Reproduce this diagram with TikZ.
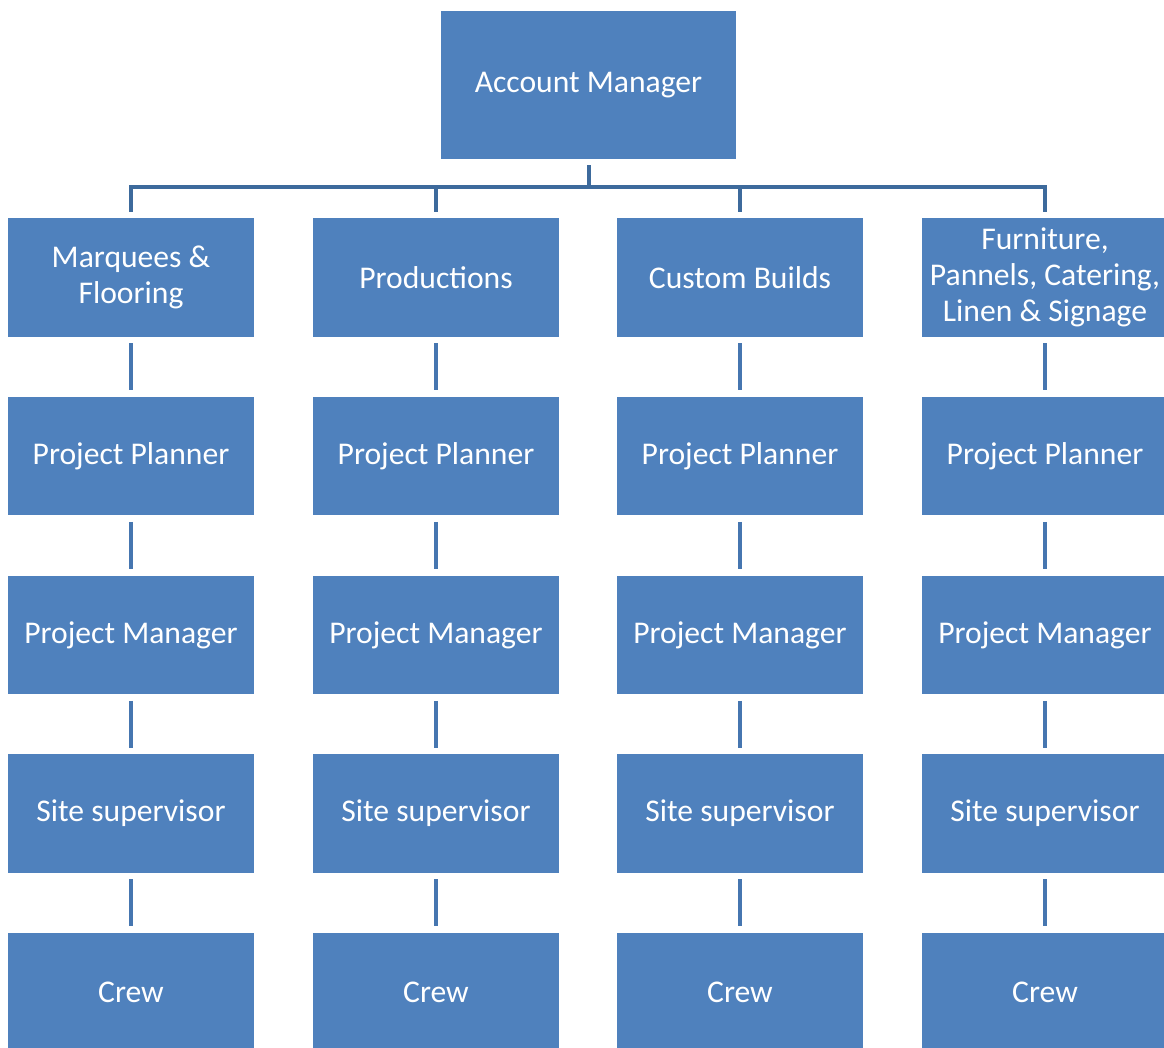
\documentclass[tikz,border=0pt]{standalone}
\usepackage{fontspec}
\setmainfont{Carlito}
\usetikzlibrary{calc}
\definecolor{boxblue}{HTML}{4F81BD}
\definecolor{treeblue}{HTML}{3D6A9C}
\definecolor{linkblue}{HTML}{4676B0}
\tikzset{
	unit/.style={fill=boxblue, text=white, inner sep=0pt, align=center, minimum width=4.92cm, minimum height=2.38cm, font=\fontsize{18}{20.5}\selectfont},
	tree/.style={draw=treeblue, line width=0.08cm},
	link/.style={draw=linkblue, line width=0.08cm}
}

\begin{document}
\begin{tikzpicture}[x=0.02cm, y=-0.02cm]
		%%%%% START %%%%%
		\useasboundingbox (0, 0) rectangle (1164, 1048);
		
		\node[unit, minimum width=5.9cm, minimum height=2.96cm] (am) at (588.5, 85) {Account Manager};
		
		\node[unit] (mf) at (131, 277.5) {Marquees \&\\Flooring};
		\node[unit] (pr) at (436, 277.5) {Productions};
		\node[unit] (cb) at (740, 277.5) {Custom Builds};
		\node[unit] (fu) at (1045, 277.5) {Furniture,\\Pannels, Catering,\\Linen \& Signage};
		
		\node[unit] (mf-pp) at (131, 456) {Project Planner};
		\node[unit] (pr-pp) at (436, 456) {Project Planner};
		\node[unit] (cb-pp) at (740, 456) {Project Planner};
		\node[unit] (fu-pp) at (1045, 456) {Project Planner};
		
		\node[unit] (mf-pm) at (131, 635) {Project Manager};
		\node[unit] (pr-pm) at (436, 635) {Project Manager};
		\node[unit] (cb-pm) at (740, 635) {Project Manager};
		\node[unit] (fu-pm) at (1045, 635) {Project Manager};
		
		\node[unit] (mf-ss) at (131, 813.5) {Site supervisor};
		\node[unit] (pr-ss) at (436, 813.5) {Site supervisor};
		\node[unit] (cb-ss) at (740, 813.5) {Site supervisor};
		\node[unit] (fu-ss) at (1045, 813.5) {Site supervisor};
		
		\node[unit] (mf-cr) at (131, 992) {Crew};
		\node[unit] (pr-cr) at (436, 992) {Crew};
		\node[unit] (cb-cr) at (740, 992) {Crew};
		\node[unit] (fu-cr) at (1045, 992) {Crew};
		
		% bus under the account manager
		\coordinate (bus) at (0, 187);
		\draw[tree] ($(am.south)+(0, 6)$) -- (bus -| am.south);
		\draw[tree] ($(mf.north)+(0, -6)$) |- (bus -| fu.north) -- ($(fu.north)+(0, -6)$);
		\draw[tree] ($(pr.north)+(0, -6)$) -- (bus -| pr.north);
		\draw[tree] ($(cb.north)+(0, -6)$) -- (bus -| cb.north);
		
		% links down each column
		\draw[link] ($(mf.south)+(0, 6)$) -- ($(mf-pp.north)+(0, -6)$);
		\draw[link] ($(mf-pp.south)+(0, 6)$) -- ($(mf-pm.north)+(0, -6)$);
		\draw[link] ($(mf-pm.south)+(0, 6)$) -- ($(mf-ss.north)+(0, -6)$);
		\draw[link] ($(mf-ss.south)+(0, 6)$) -- ($(mf-cr.north)+(0, -6)$);
		
		\draw[link] ($(pr.south)+(0, 6)$) -- ($(pr-pp.north)+(0, -6)$);
		\draw[link] ($(pr-pp.south)+(0, 6)$) -- ($(pr-pm.north)+(0, -6)$);
		\draw[link] ($(pr-pm.south)+(0, 6)$) -- ($(pr-ss.north)+(0, -6)$);
		\draw[link] ($(pr-ss.south)+(0, 6)$) -- ($(pr-cr.north)+(0, -6)$);
		
		\draw[link] ($(cb.south)+(0, 6)$) -- ($(cb-pp.north)+(0, -6)$);
		\draw[link] ($(cb-pp.south)+(0, 6)$) -- ($(cb-pm.north)+(0, -6)$);
		\draw[link] ($(cb-pm.south)+(0, 6)$) -- ($(cb-ss.north)+(0, -6)$);
		\draw[link] ($(cb-ss.south)+(0, 6)$) -- ($(cb-cr.north)+(0, -6)$);
		
		\draw[link] ($(fu.south)+(0, 6)$) -- ($(fu-pp.north)+(0, -6)$);
		\draw[link] ($(fu-pp.south)+(0, 6)$) -- ($(fu-pm.north)+(0, -6)$);
		\draw[link] ($(fu-pm.south)+(0, 6)$) -- ($(fu-ss.north)+(0, -6)$);
		\draw[link] ($(fu-ss.south)+(0, 6)$) -- ($(fu-cr.north)+(0, -6)$);
		%%%%% END %%%%%
	\end{tikzpicture}
\end{document}
